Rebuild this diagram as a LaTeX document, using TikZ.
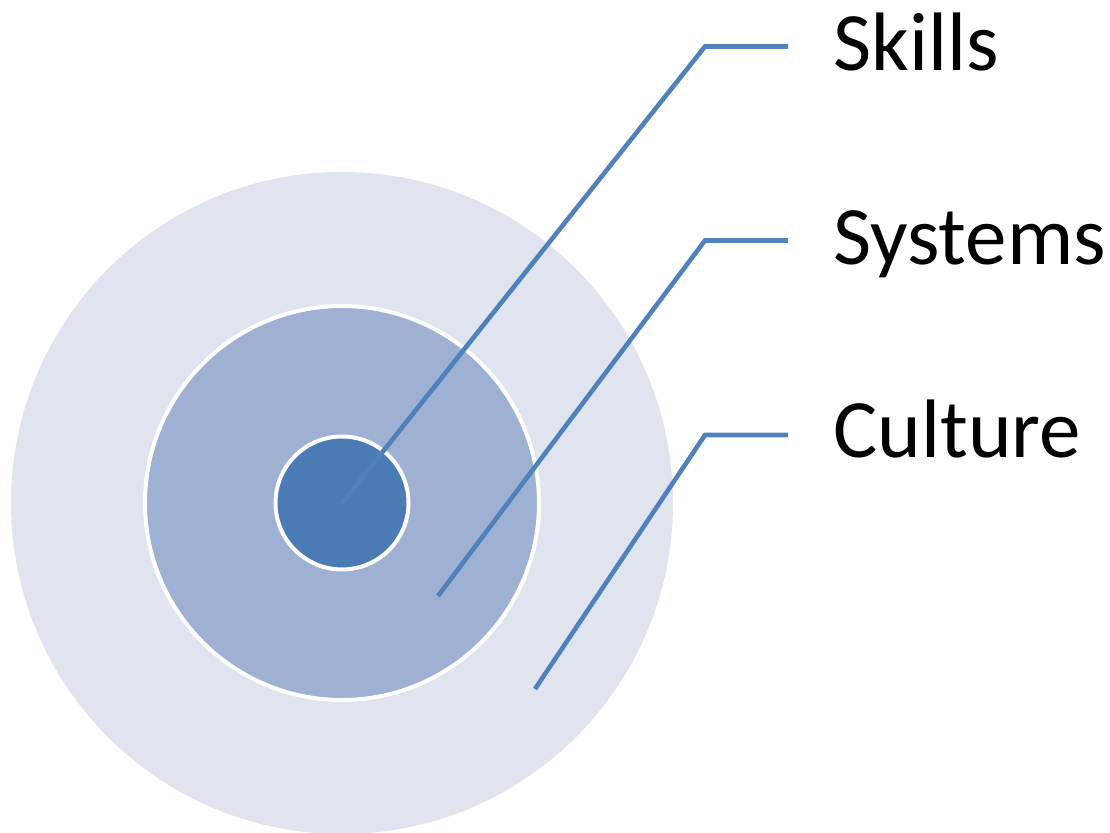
\documentclass[tikz,border=0pt]{standalone}
\usepackage{fontspec}
\setmainfont{Carlito}
\definecolor{ringouter}{HTML}{DFE4EE}
\definecolor{ringmid}{HTML}{9EB1D3}
\definecolor{ringinner}{HTML}{4A7BB5}
\definecolor{leader}{HTML}{4F81BD}
\begin{document}
\begin{tikzpicture}[x=0.5pt,y=-0.5pt,
  ring/.style={circle,inner sep=0pt,outer sep=0pt},
  leaderline/.style={draw=leader,line width=2.3pt,line join=miter},
  lbl/.style={anchor=base west,inner sep=0pt,font=\fontsize{41.5}{48}\selectfont,text=black}]
\useasboundingbox (0,0) rectangle (1110,833);
\clip (0,0) rectangle (1110,833);
\node[ring,fill=ringouter,minimum size=331pt] (outer) at (342,503) {};
\node[ring,fill=ringmid,draw=white,line width=2pt,minimum size=197pt] (mid) at (342,503) {};
\node[ring,fill=ringinner,draw=white,line width=2pt,minimum size=66.5pt] (inner) at (342,503) {};
\coordinate (c) at (342,503);
\coordinate (k1) at (705,46.5);
\coordinate (k2) at (788,46.5);
\coordinate (s0) at (438,596);
\coordinate (s1) at (705,240.5);
\coordinate (s2) at (788,240.5);
\coordinate (u0) at (535,689);
\coordinate (u1) at (705,435);
\coordinate (u2) at (788,435);
\draw[leaderline] (c) -- (k1) -- (k2);
\draw[leaderline] (s0) -- (s1) -- (s2);
\draw[leaderline] (u0) -- (u1) -- (u2);
\node[lbl] (skills) at (833,71) {Skills};
\node[lbl] (systems) at (833,265) {Systems};
\node[lbl] (culture) at (833,458) {Culture};
\end{tikzpicture}
\end{document}
